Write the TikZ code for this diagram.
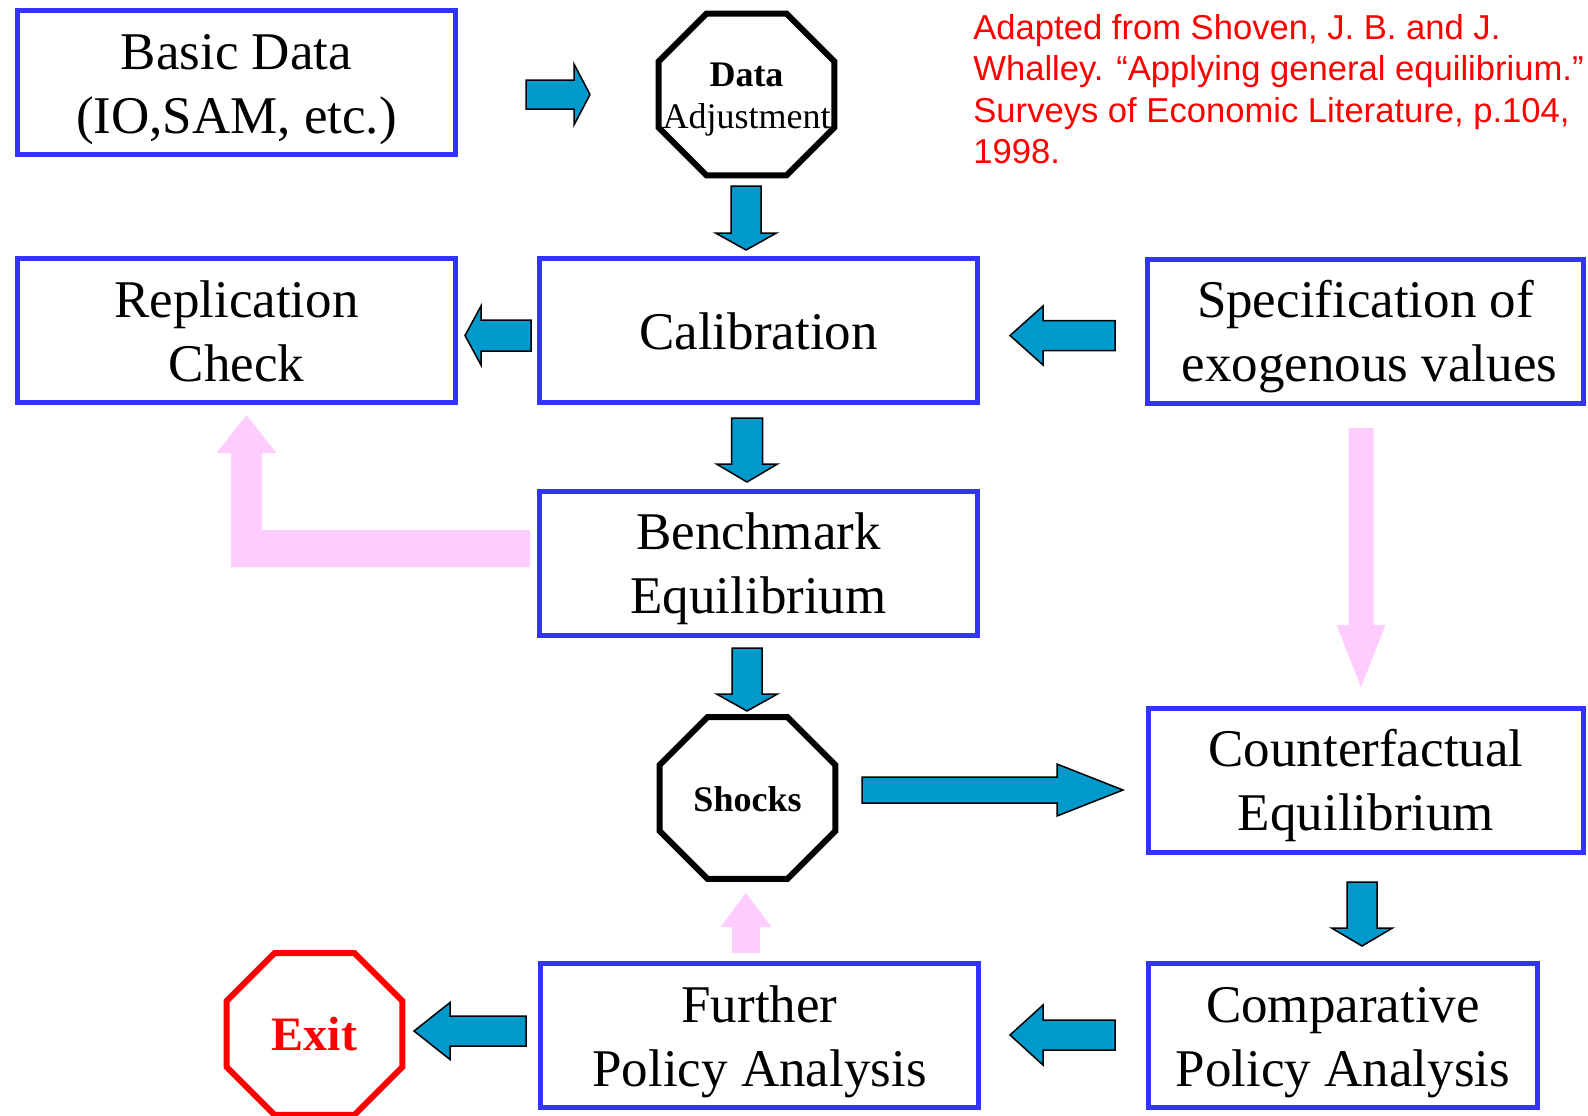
\documentclass[tikz,border=0pt]{standalone}
\usepackage{fontspec}
\setmainfont{Liberation Serif}
\newfontfamily\citefont{Liberation Sans}
\usetikzlibrary{calc}
\definecolor{boxblue}{HTML}{3333FF}
\definecolor{arrfill}{HTML}{0099CC}
\definecolor{pinkarr}{HTML}{FFCCFF}
\definecolor{exitred}{HTML}{FF0000}
\newcommand\bstrut{\rule[-6pt]{0pt}{30.5pt}}
\newcommand\ostrut{\rule[-3.7pt]{0pt}{20.9pt}}
% style, start, tip, shaft half width, head half width, head length
\newcommand\blockarrow[6]{%
  \coordinate (tmpH) at ($(#3)!#6!(#2)$);
  \path[#1] ($(#2)!#4!90:(#3)$) -- ($(tmpH)!#4!90:(#3)$) -- ($(tmpH)!#5!90:(#3)$) -- (#3)
    -- ($(tmpH)!#5!-90:(#3)$) -- ($(tmpH)!#4!-90:(#3)$) -- ($(#2)!#4!-90:(#3)$) -- cycle;
}
\tikzset{
  box/.style={draw=boxblue, line width=2.5pt, minimum width=219pt, minimum height=72pt,
    inner sep=0pt, align=center, font=\fontsize{26.5pt}{32pt}\selectfont},
  oct/.style={minimum width=87.5pt, minimum height=80.5pt, inner sep=0pt, align=center,
    font=\fontsize{18pt}{21pt}\selectfont},
  bluearrow/.style={fill=arrfill, draw=black, line width=0.75pt, line join=miter},
  pinkarrow/.style={fill=pinkarr},
}
\begin{document}
\begin{tikzpicture}[x=0.5pt,y=-0.5pt]
\useasboundingbox (0,0) rectangle (1588,1115);

% boxes
\node[box] (bd) at (236.5,82.5) {Basic Data\bstrut\\(IO,SAM, etc.)\bstrut};
\node[box] (rc) at (236.5,330.5) {Replication\bstrut\\Check\bstrut};
\node[box] (cal) at (758.5,330.5) {Calibration\bstrut};
\node[box, minimum width=218pt] (spec) at (1365.5,331) {Specification of\bstrut\\\hspace*{4pt}exogenous values\bstrut};
\node[box] (bench) at (758.5,563) {Benchmark\bstrut\\Equilibrium\bstrut};
\node[box, minimum width=217.5pt] (cf) at (1366,780) {Counterfactual\bstrut\\Equilibrium\bstrut};
\node[box] (fur) at (759.5,1035.5) {Further\bstrut\\Policy Analysis\bstrut};
\node[box, minimum width=194.5pt] (comp) at (1343,1035.5) {Comparative\bstrut\\Policy Analysis\bstrut};

% octagons
\node[oct] (da) at (746.5,94.5) {\textbf{Data}\ostrut\\Adjustment\ostrut};
\node[oct] (sh) at (747.5,798) {\textbf{Shocks}\ostrut};
\node[oct, text=exitred, font=\fontsize{24pt}{28pt}\selectfont\bfseries] (ex) at (314.5,1034) {Exit};
\foreach \n/\c in {da/black, sh/black, ex/exitred}
  \draw[draw=\c, line width=3pt, line join=miter]
    ($(\n.north west)+(48,0)$) -- ($(\n.north east)+(-48,0)$) -- ($(\n.north east)+(0,48)$)
    -- ($(\n.south east)+(0,-48)$) -- ($(\n.south east)+(-48,0)$) -- ($(\n.south west)+(48,0)$)
    -- ($(\n.south west)+(0,-48)$) -- ($(\n.north west)+(0,48)$) -- cycle;

% citation
\node[anchor=north west, inner sep=0pt, align=left, text=exitred,
  font=\citefont\fontsize{17.3pt}{20.65pt}\selectfont] (cite) at (973,14)
  {Adapted from Shoven, J. B. and J.\\Whalley. “Applying general equilibrium.”\\Surveys of Economic Literature, p.104,\\1998.};

% connector end points
\coordinate (a1s) at (526,94.5);   \coordinate (a1t) at (590,94.5);
\coordinate (a2s) at (746,186);    \coordinate (a2t) at (746,250);
\coordinate (a3s) at (531,335.5);  \coordinate (a3t) at (465,335.5);
\coordinate (a4s) at (1115,335.5); \coordinate (a4t) at (1010,335.5);
\coordinate (a5s) at (747,418);    \coordinate (a5t) at (747,482);
\coordinate (a6s) at (747,648);    \coordinate (a6t) at (747,711);
\coordinate (a7s) at (862,790);    \coordinate (a7t) at (1123,790);
\coordinate (a8s) at (1362,882);   \coordinate (a8t) at (1362,946);
\coordinate (a9s) at (1115,1035);  \coordinate (a9t) at (1010,1035);
\coordinate (a10s) at (526,1031);  \coordinate (a10t) at (414,1031);
\coordinate (p2s) at (1361,428);   \coordinate (p2t) at (1361,687);
\coordinate (p3s) at (746,953);    \coordinate (p3t) at (746,893);

% blue block arrows
\blockarrow{bluearrow}{a1s}{a1t}{7.25pt}{15.25pt}{8pt}
\blockarrow{bluearrow}{a2s}{a2t}{7.5pt}{15.25pt}{8.5pt}
\blockarrow{bluearrow}{a3s}{a3t}{7.75pt}{14.75pt}{8pt}
\blockarrow{bluearrow}{a4s}{a4t}{7.5pt}{14.75pt}{16.5pt}
\blockarrow{bluearrow}{a5s}{a5t}{7.75pt}{15.25pt}{9pt}
\blockarrow{bluearrow}{a6s}{a6t}{7.5pt}{15.25pt}{8.5pt}
\blockarrow{bluearrow}{a7s}{a7t}{6.5pt}{13pt}{33pt}
\blockarrow{bluearrow}{a8s}{a8t}{7.5pt}{15.25pt}{9pt}
\blockarrow{bluearrow}{a9s}{a9t}{7.5pt}{15pt}{16.5pt}
\blockarrow{bluearrow}{a10s}{a10t}{7.5pt}{14.25pt}{18pt}

% pink arrows
\blockarrow{pinkarrow}{p2s}{p2t}{6.25pt}{12.25pt}{31pt}
\blockarrow{pinkarrow}{p3s}{p3t}{7pt}{12.75pt}{17pt}
\coordinate (p1s) at (530,548.5);
\coordinate (p1c) at (246.5,548.5);
\coordinate (p1t) at (246.5,415);
\fill[pinkarr] ($(p1s)+(0,-18.5)$) -- ($(p1c)+(15.5,-18.5)$) -- ($(p1t)+(15.5,38)$) -- ($(p1t)+(30,38)$)
  -- (p1t) -- ($(p1t)+(-30,38)$) -- ($(p1t)+(-15.5,38)$) -- ($(p1c)+(-15.5,18.5)$)
  -- ($(p1s)+(0,18.5)$) -- cycle;
\end{tikzpicture}
\end{document}
